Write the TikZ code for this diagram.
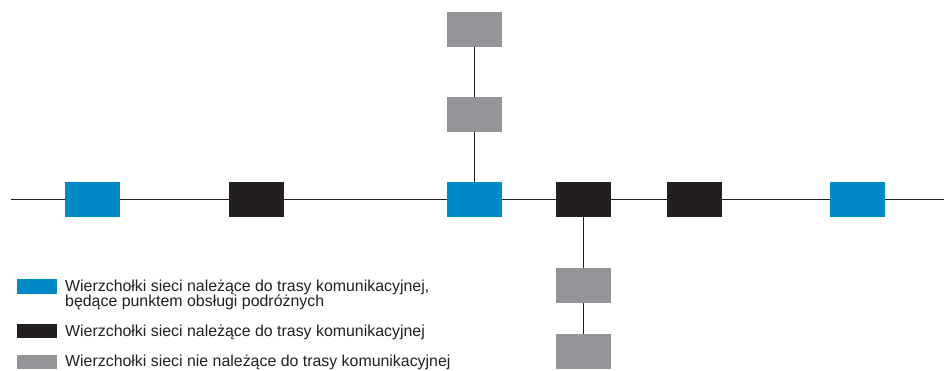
\documentclass[tikz,border=0pt]{standalone}
\usepackage{fontspec}
\setmainfont{Liberation Sans}
\definecolor{cblue}{HTML}{0089C9}
\definecolor{cblack}{HTML}{231F20}
\definecolor{cgray}{HTML}{939598}
\begin{document}
\begin{tikzpicture}[x=1pt,y=-1pt,
  vert/.style={rectangle,inner sep=0pt,minimum width=55pt,minimum height=35pt},
  bluev/.style={vert,fill=cblue},
  blackv/.style={vert,fill=cblack},
  grayv/.style={vert,fill=cgray},
  keybox/.style={rectangle,inner sep=0pt,minimum width=40pt,minimum height=14.5pt,anchor=north west},
  edge/.style={draw=cblack,line width=1.3pt},
  legtext/.style={anchor=base west,inner sep=0pt,font=\fontsize{15.9}{15.9}\selectfont,text=cblack,align=left}]
\useasboundingbox (0,0) rectangle (948,370);
\coordinate (L) at (11,199.3);
\coordinate (R) at (944,199.3);
\node[bluev]  (b1) at (92.5,199.3) {};
\node[blackv] (k1) at (256.5,199.3) {};
\node[bluev]  (b2) at (474.5,199.3) {};
\node[blackv] (k2) at (583.5,199.3) {};
\node[blackv] (k3) at (694.5,199.3) {};
\node[bluev]  (b3) at (857.5,199.3) {};
\node[grayv]  (g1) at (474.5,29.3) {};
\node[grayv]  (g2) at (474.5,114.3) {};
\node[grayv]  (g3) at (583.5,285.3) {};
\node[grayv]  (g4) at (583.5,351.3) {};
\draw[edge] (L) -- (b1) -- (k1) -- (b2) -- (k2) -- (k3) -- (b3) -- (R);
\draw[edge] (g1) -- (g2) -- (b2);
\draw[edge] (k2) -- (g3) -- (g4);
\node[keybox,fill=cblue]  (kb) at (17,279) {};
\node[keybox,fill=cblack] (kk) at (17,323.3) {};
\node[keybox,fill=cgray]  (kg) at (17,354.3) {};
\node[legtext] (t1) at (65,291.7) {Wierzchołki sieci należące do trasy komunikacyjnej,};
\node[legtext] (t2) at (65,306.7) {będące punktem obsługi podróżnych};
\node[legtext] (t3) at (65,336) {Wierzchołki sieci należące do trasy komunikacyjnej};
\node[legtext] (t4) at (65,366) {Wierzchołki sieci nie należące do trasy komunikacyjnej};
\end{tikzpicture}
\end{document}
